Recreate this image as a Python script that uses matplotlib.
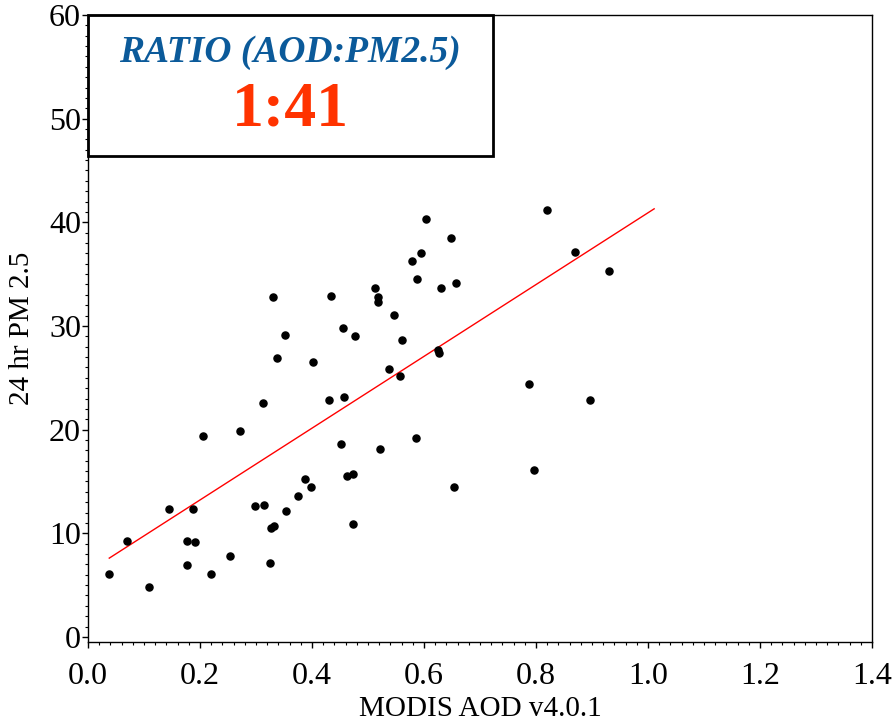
import matplotlib.pyplot as plt
from matplotlib import font_manager as fm
from matplotlib.patches import Rectangle
from matplotlib.ticker import MultipleLocator
import numpy as np

# AOD (x) and 24 hr PM2.5 (y)
aod = [0.038, 0.070, 0.109, 0.145, 0.176, 0.177, 0.188, 0.191, 0.205, 0.220,
       0.253, 0.272, 0.298, 0.313, 0.315, 0.325, 0.327, 0.332, 0.331, 0.337,
       0.351, 0.354, 0.375, 0.387, 0.399, 0.401, 0.434, 0.431, 0.451, 0.455,
       0.457, 0.462, 0.473, 0.473, 0.476, 0.513, 0.518, 0.518, 0.522, 0.537,
       0.546, 0.558, 0.560, 0.578, 0.585, 0.587, 0.594, 0.604, 0.625, 0.627,
       0.631, 0.649, 0.654, 0.657, 0.787, 0.797, 0.819, 0.870, 0.896, 0.930]
pm25 = [6.1, 9.3, 4.8, 12.3, 9.3, 6.9, 12.3, 9.2, 19.4, 6.1,
        7.8, 19.9, 12.6, 22.6, 12.7, 7.1, 10.5, 10.7, 32.8, 26.9,
        29.1, 12.1, 13.6, 15.2, 14.5, 26.5, 32.9, 22.9, 18.6, 29.8,
        23.1, 15.5, 15.7, 10.9, 29.0, 33.7, 32.8, 32.3, 18.1, 25.8,
        31.1, 25.2, 28.6, 36.3, 19.2, 34.5, 37.0, 40.3, 27.7, 27.4,
        33.7, 38.5, 14.5, 34.1, 24.4, 16.1, 41.2, 37.1, 22.9, 35.3]

# regression line end points
fit_x = [0.038, 1.011]
fit_y = [7.6, 41.3]

ratio_title = 'RATIO (AOD:PM2.5)'
ratio_value = '1:41'

# make sure the Liberation Serif files are registered (Times look-alike)
for f in fm.findSystemFonts():
    if 'LiberationSerif' in f.replace(' ', '').replace('-', ''):
        fm.fontManager.addfont(f)
serif = 'DejaVu Serif'
for f in fm.fontManager.ttflist:
    if f.name.startswith('Liberation Serif'):
        serif = f.name
        break
plt.rcParams['font.family'] = [serif, 'DejaVu Serif']

fig = plt.figure(figsize=(8.95, 7.28), dpi=100)
ax = fig.add_axes([0.0983, 0.118, 0.876, 0.8614])

ax.plot(fit_x, fit_y, color='red', lw=1)
ax.scatter(aod, pm25, s=26, color='black', zorder=3)

ax.set_xlim(0, 1.4)
ax.set_ylim(-0.5, 60)
ax.xaxis.set_major_locator(MultipleLocator(0.2))
ax.xaxis.set_minor_locator(MultipleLocator(0.02))
ax.yaxis.set_major_locator(MultipleLocator(10))
ax.yaxis.set_minor_locator(MultipleLocator(1))
ax.xaxis.set_major_formatter(lambda v, p: '%.1f' % v)
ax.tick_params(which='major', direction='out', length=4, width=1, labelsize=23)
ax.tick_params(which='minor', direction='out', length=2.5, width=0.8)
ax.tick_params(axis='x', which='major', pad=10)
ax.tick_params(axis='y', which='major', pad=1)

ax.set_xlabel('MODIS AOD v4.0.1', fontsize=21, labelpad=4)
ax.set_ylabel('24 hr PM 2.5', fontsize=21, labelpad=10)

for sp in ax.spines.values():
    sp.set_linewidth(1)

# ratio box in upper left corner
ax.add_patch(Rectangle((0, 0.775), 0.516, 0.225, transform=ax.transAxes,
                       fill=False, edgecolor='black', lw=2, zorder=4, clip_on=False))
ax.text(0.258, 0.94, ratio_title, transform=ax.transAxes, ha='center', va='center',
        fontsize=27, style='italic', weight='bold', color='#0b5a9a')
ax.text(0.258, 0.847, ratio_value, transform=ax.transAxes, ha='center', va='center',
        fontsize=46, weight='bold', color='#ff3300')

plt.savefig('out.png', dpi=100)
